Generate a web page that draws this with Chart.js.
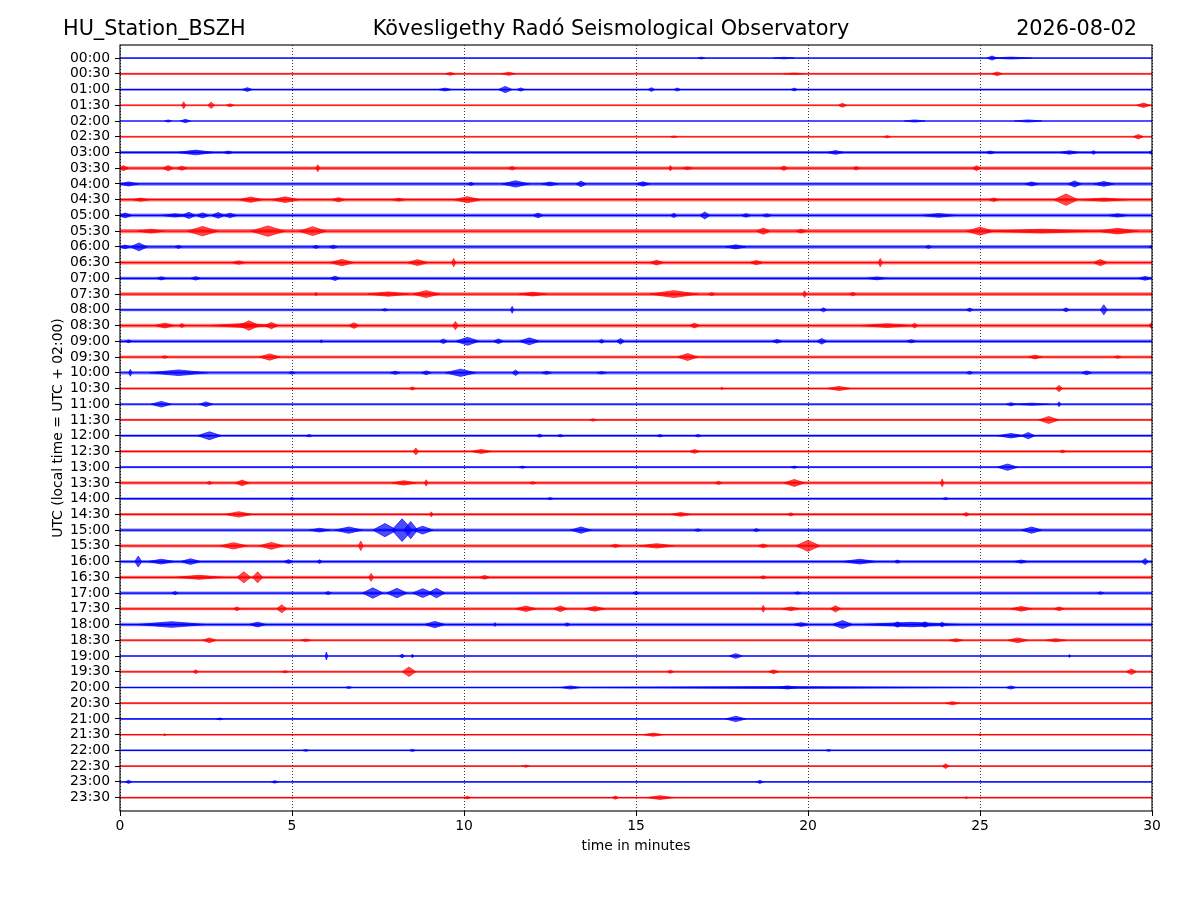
<!DOCTYPE html>
<html>
<head>
<meta charset="utf-8">
<script src="https://cdn.jsdelivr.net/npm/chart.js@4.4.1/dist/chart.umd.min.js"></script>
<style>
  html, body { margin: 0; padding: 0; background: #fff; }
  canvas { display: block; }
</style>
</head>
<body>
<canvas id="c" width="1200" height="900"></canvas>
<script>
// ---------------- DATA ----------------
const titleLeft = "HU_Station_BSZH";
const titleCenter = "Kövesligethy Radó Seismological Observatory";
const titleRight = "2026-08-02";
const xAxisTitle = "time in minutes";
const yAxisTitle = "UTC (local time = UTC + 02:00)";

const xTicks = [0, 5, 10, 15, 20, 25, 30];

const traceLabels = [
  "00:00","00:30","01:00","01:30","02:00","02:30","03:00","03:30",
  "04:00","04:30","05:00","05:30","06:00","06:30","07:00","07:30",
  "08:00","08:30","09:00","09:30","10:00","10:30","11:00","11:30",
  "12:00","12:30","13:00","13:30","14:00","14:30","15:00","15:30",
  "16:00","16:30","17:00","17:30","18:00","18:30","19:00","19:30",
  "20:00","20:30","21:00","21:30","22:00","22:30","23:00","23:30"
];

// background noise half-amplitude of each trace (in trace-spacing units)
const noiseLevel = [
  0.05, 0.06, 0.06, 0.065, 0.05, 0.06, 0.09, 0.11,
  0.11, 0.11, 0.12, 0.13, 0.12, 0.12, 0.11, 0.12,
  0.09, 0.12, 0.11, 0.10, 0.11, 0.08, 0.08, 0.07,
  0.08, 0.08, 0.07, 0.10, 0.08, 0.09, 0.11, 0.11,
  0.10, 0.10, 0.10, 0.10, 0.11, 0.08, 0.07, 0.08,
  0.07, 0.06, 0.06, 0.05, 0.055, 0.055, 0.055, 0.055
];

// bursts: [trace index, centre minute, half-duration (min), peak half-amplitude]
const bursts = [
  [0,25.35,0.15,0.13],[0,25.9,0.6,0.06],[0,16.9,0.1,0.06],[0,19.3,0.3,0.05],
  [1,9.6,0.15,0.09],[1,11.3,0.2,0.1],[1,25.5,0.15,0.12],[1,19.6,0.3,0.05],
  [2,3.7,0.15,0.12],[2,9.45,0.2,0.09],[2,11.2,0.2,0.2],[2,11.65,0.12,0.1],[2,15.45,0.1,0.12],[2,16.2,0.1,0.1],[2,19.6,0.1,0.09],
  [3,1.85,0.06,0.22],[3,2.65,0.1,0.2],[3,3.2,0.12,0.09],[3,21.0,0.12,0.13],[3,29.75,0.2,0.14],
  [4,1.9,0.15,0.11],[4,1.4,0.1,0.07],[4,23.1,0.3,0.07],[4,26.4,0.4,0.07],
  [5,29.6,0.15,0.14],[5,22.3,0.1,0.07],[5,16.1,0.1,0.05],
  [6,2.2,0.55,0.15],[6,3.15,0.15,0.09],[6,20.8,0.25,0.12],[6,25.3,0.15,0.09],[6,27.6,0.3,0.11],[6,28.3,0.08,0.12],[6,30.0,0.1,0.14],
  [7,0.1,0.15,0.16],[7,1.4,0.15,0.17],[7,1.8,0.15,0.13],[7,5.75,0.06,0.22],[7,11.4,0.12,0.11],[7,16.0,0.05,0.17],[7,16.5,0.15,0.09],[7,19.3,0.12,0.14],[7,21.4,0.1,0.11],[7,24.9,0.12,0.16],
  [8,0.25,0.3,0.13],[8,10.2,0.1,0.1],[8,11.5,0.4,0.2],[8,12.5,0.25,0.12],[8,13.4,0.15,0.18],[8,15.2,0.2,0.14],[8,26.5,0.2,0.13],[8,27.75,0.2,0.19],[8,28.6,0.3,0.15],
  [9,0.6,0.25,0.1],[9,3.8,0.35,0.17],[9,4.8,0.4,0.18],[9,6.35,0.2,0.13],[9,8.1,0.2,0.09],[9,10.1,0.4,0.19],[9,27.5,0.35,0.36],[9,25.4,0.15,0.11],[9,28.6,0.7,0.1],
  [10,0.15,0.2,0.15],[10,2.0,0.2,0.2],[10,2.4,0.2,0.16],[10,2.85,0.2,0.18],[10,3.2,0.2,0.14],[10,1.6,0.4,0.1],[10,12.15,0.15,0.15],[10,16.1,0.1,0.14],[10,17.0,0.15,0.22],[10,18.2,0.15,0.11],[10,18.8,0.15,0.1],[10,23.8,0.5,0.12],[10,29.0,0.3,0.1],
  [11,0.9,0.4,0.12],[11,2.4,0.45,0.3],[11,4.3,0.5,0.33],[11,5.6,0.4,0.28],[11,18.7,0.2,0.2],[11,19.8,0.15,0.12],[11,25.0,0.4,0.25],[11,26.8,1.6,0.12],[11,29.0,0.6,0.18],
  [12,0.15,0.15,0.12],[12,0.55,0.25,0.25],[12,1.7,0.1,0.1],[12,5.7,0.1,0.1],[12,6.2,0.12,0.11],[12,17.9,0.3,0.13],[12,23.5,0.1,0.1],[12,30.0,0.1,0.09],
  [13,3.45,0.2,0.11],[13,6.45,0.35,0.2],[13,8.65,0.3,0.19],[13,9.7,0.06,0.26],[13,15.6,0.2,0.15],[13,18.5,0.2,0.13],[13,22.1,0.06,0.26],[13,28.5,0.2,0.2],
  [14,1.2,0.15,0.1],[14,2.2,0.15,0.11],[14,6.25,0.15,0.14],[14,22.0,0.3,0.09],[14,29.8,0.2,0.12],
  [15,7.8,0.6,0.14],[15,8.9,0.4,0.22],[15,12.0,0.4,0.12],[15,5.7,0.05,0.1],[15,16.1,0.7,0.22],[15,19.9,0.06,0.21],[15,17.2,0.1,0.1],[15,21.3,0.1,0.11],
  [16,7.7,0.1,0.08],[16,11.4,0.05,0.22],[16,20.45,0.1,0.13],[16,24.7,0.1,0.11],[16,27.5,0.1,0.13],[16,28.6,0.1,0.32],
  [17,1.3,0.3,0.15],[17,1.8,0.1,0.13],[17,3.6,1.0,0.13],[17,3.75,0.3,0.3],[17,4.4,0.2,0.2],[17,6.8,0.15,0.18],[17,9.75,0.08,0.26],[17,16.7,0.15,0.15],[17,22.3,0.8,0.12],[17,23.1,0.1,0.15],[17,30.0,0.1,0.2],
  [18,0.25,0.1,0.09],[18,5.85,0.05,0.09],[18,9.4,0.12,0.15],[18,10.1,0.35,0.25],[18,11.0,0.15,0.15],[18,11.9,0.3,0.22],[18,14.0,0.1,0.12],[18,14.55,0.12,0.18],[18,19.1,0.15,0.12],[18,20.4,0.15,0.18],[18,23.0,0.15,0.1],
  [19,4.35,0.3,0.2],[19,1.3,0.1,0.08],[19,16.5,0.3,0.22],[19,26.6,0.2,0.12],[19,29.0,0.1,0.08],
  [20,0.3,0.05,0.22],[20,1.7,0.85,0.18],[20,5.0,0.1,0.08],[20,8.0,0.15,0.1],[20,8.9,0.15,0.12],[20,9.9,0.45,0.23],[20,11.5,0.1,0.18],[20,12.4,0.15,0.1],[20,14.0,0.15,0.08],[20,24.7,0.1,0.1],[20,28.1,0.15,0.12],
  [21,8.5,0.1,0.1],[21,17.5,0.05,0.07],[21,20.9,0.35,0.13],[21,27.3,0.1,0.2],
  [22,1.2,0.3,0.18],[22,2.5,0.2,0.15],[22,25.9,0.15,0.1],[22,27.3,0.05,0.16],[22,26.5,0.5,0.07],
  [23,13.75,0.1,0.08],[23,27.0,0.3,0.22],
  [24,2.6,0.35,0.25],[24,5.5,0.1,0.07],[24,12.2,0.1,0.1],[24,12.8,0.1,0.08],[24,25.9,0.4,0.14],[24,26.4,0.2,0.2],[24,15.7,0.1,0.08],[24,16.8,0.1,0.08],
  [25,8.6,0.08,0.22],[25,10.5,0.3,0.13],[25,16.7,0.15,0.12],[25,27.4,0.1,0.09],
  [26,11.7,0.1,0.07],[26,19.6,0.1,0.07],[26,25.8,0.3,0.2],
  [27,2.6,0.08,0.1],[27,3.55,0.2,0.18],[27,8.25,0.35,0.14],[27,8.9,0.05,0.2],[27,12.0,0.1,0.08],[27,17.4,0.1,0.1],[27,19.6,0.3,0.22],[27,23.9,0.05,0.25],
  [28,5.0,0.08,0.08],[28,12.5,0.1,0.07],[28,24.0,0.1,0.07],
  [29,3.45,0.4,0.17],[29,9.05,0.05,0.16],[29,16.3,0.3,0.12],[29,19.5,0.1,0.1],[29,24.6,0.1,0.12],
  [30,6.65,0.4,0.2],[30,5.8,0.3,0.12],[30,7.7,0.35,0.42],[30,8.2,0.3,0.72],[30,8.45,0.2,0.55],[30,8.8,0.3,0.25],[30,13.4,0.3,0.2],[30,16.8,0.1,0.08],[30,18.5,0.1,0.1],[30,26.5,0.3,0.2],
  [31,3.3,0.4,0.2],[31,4.4,0.35,0.22],[31,7.0,0.07,0.3],[31,14.4,0.15,0.1],[31,15.6,0.5,0.14],[31,18.7,0.15,0.12],[31,20.0,0.35,0.35],
  [32,0.53,0.1,0.35],[32,1.2,0.4,0.15],[32,2.05,0.3,0.18],[32,4.9,0.15,0.12],[32,5.8,0.08,0.12],[32,21.5,0.5,0.15],[32,22.6,0.1,0.1],[32,26.2,0.2,0.1],[32,29.8,0.1,0.2],
  [33,2.3,0.7,0.13],[33,3.6,0.2,0.35],[33,4.0,0.15,0.35],[33,7.3,0.07,0.25],[33,10.6,0.15,0.12],[33,18.7,0.1,0.1],
  [34,7.35,0.3,0.33],[34,8.05,0.3,0.3],[34,8.8,0.3,0.28],[34,9.2,0.25,0.3],[34,1.6,0.1,0.1],[34,6.05,0.1,0.1],[34,15.0,0.1,0.1],[34,19.7,0.1,0.08],[34,28.5,0.1,0.08],
  [35,3.4,0.1,0.12],[35,4.7,0.15,0.25],[35,11.8,0.3,0.17],[35,12.8,0.2,0.18],[35,13.8,0.3,0.15],[35,18.7,0.05,0.22],[35,19.5,0.25,0.12],[35,20.8,0.15,0.2],[35,26.2,0.3,0.15],[35,27.3,0.15,0.12],
  [36,1.5,1.0,0.18],[36,4.0,0.25,0.15],[36,9.15,0.3,0.2],[36,10.9,0.05,0.12],[36,13.0,0.1,0.1],[36,19.8,0.25,0.12],[36,21.0,0.3,0.25],[36,23.0,1.5,0.14],[36,22.6,0.15,0.17],[36,23.4,0.15,0.17],[36,23.9,0.1,0.15],
  [37,2.6,0.2,0.15],[37,5.4,0.15,0.08],[37,24.3,0.2,0.1],[37,26.1,0.3,0.15],[37,27.2,0.3,0.1],
  [38,6.0,0.04,0.25],[38,8.2,0.08,0.12],[38,8.5,0.04,0.12],[38,17.9,0.2,0.15],[38,27.6,0.04,0.1],
  [39,2.2,0.08,0.12],[39,8.4,0.2,0.3],[39,4.8,0.1,0.07],[39,16.0,0.1,0.1],[39,19.0,0.15,0.12],[39,29.4,0.15,0.18],
  [40,6.65,0.1,0.07],[40,13.1,0.3,0.1],[40,19.0,6.5,0.06],[40,19.4,0.3,0.1],[40,25.9,0.15,0.1],
  [41,24.2,0.2,0.1],
  [42,2.9,0.1,0.06],[42,17.9,0.3,0.17],
  [43,1.3,0.05,0.06],[43,15.5,0.3,0.1],[43,25.0,0.05,0.06],
  [44,5.4,0.1,0.06],[44,8.5,0.1,0.07],[44,20.6,0.1,0.06],
  [45,11.8,0.1,0.07],[45,24.0,0.1,0.15],
  [46,0.25,0.1,0.1],[46,4.5,0.1,0.08],[46,18.6,0.1,0.1],
  [47,10.1,0.1,0.08],[47,14.4,0.1,0.1],[47,15.7,0.4,0.12],[47,24.6,0.05,0.06]
];

// ---------------- CHART ----------------
const FONT = '"DejaVu Sans", "Liberation Sans", sans-serif';
const traceColor = (i) => (i % 2 === 0 ? [0, 0, 255] : [255, 0, 0]);
const rgba = (c, a) => `rgba(${c[0]},${c[1]},${c[2]},${a})`;

const datasets = [];
traceLabels.forEach((lab, i) => {
  const c = traceColor(i);
  const n = noiseLevel[i];
  // noise band
  datasets.push({
    data: [{x: 0, y: i - n}, {x: 30, y: i - n}, {x: 30, y: i + n}, {x: 0, y: i + n}],
    fill: 'shape', backgroundColor: rgba(c, 0.5), borderWidth: 0,
    pointRadius: 0, tension: 0
  });
  // centre line
  datasets.push({
    data: [{x: 0, y: i}, {x: 30, y: i}],
    fill: false, borderColor: rgba(c, 1), borderWidth: 1.2,
    pointRadius: 0, tension: 0
  });
});
bursts.forEach(([i, t, w, a]) => {
  const c = traceColor(i);
  datasets.push({
    data: [{x: t - w, y: i}, {x: t, y: i - a}, {x: t + w, y: i}, {x: t, y: i + a}, {x: t - w, y: i}],
    fill: 'shape', backgroundColor: rgba(c, 0.7), borderColor: rgba(c, 0.85), borderWidth: 0.8,
    pointRadius: 0, tension: 0
  });
});

const textPlugin = {
  id: 'texts',
  afterDraw(chart) {
    const ctx = chart.ctx;
    const a = chart.chartArea;
    ctx.save();
    // frame
    ctx.strokeStyle = '#000';
    ctx.lineWidth = 1.1;
    ctx.setLineDash([]);
    ctx.strokeRect(a.left, a.top, a.right - a.left, a.bottom - a.top);
    // titles
    ctx.fillStyle = '#000';
    ctx.font = '20.8px ' + FONT;
    ctx.textBaseline = 'alphabetic';
    ctx.textAlign = 'left';
    ctx.fillText(titleLeft, 63, 35);
    ctx.textAlign = 'center';
    ctx.fillText(titleCenter, 611, 35);
    ctx.textAlign = 'right';
    ctx.fillText(titleRight, 1137, 35);
    // axis titles
    ctx.font = '13.9px ' + FONT;
    ctx.textAlign = 'center';
    ctx.fillText(xAxisTitle, (a.left + a.right) / 2, 850);
    ctx.translate(62, (a.top + a.bottom) / 2);
    ctx.rotate(-Math.PI / 2);
    ctx.fillText(yAxisTitle, 0, 0);
    ctx.restore();
  }
};

new Chart(document.getElementById('c'), {
  type: 'line',
  data: { datasets },
  plugins: [textPlugin],
  options: {
    responsive: false,
    animation: false,
    events: [],
    layout: { padding: { left: 0, right: 48, top: 45, bottom: 0 } },
    plugins: { legend: { display: false }, tooltip: { enabled: false }, title: { display: false } },
    scales: {
      x: {
        type: 'linear', min: 0, max: 30,
        afterFit: (s) => { s.height = 89; },
        afterBuildTicks: (s) => { s.ticks = xTicks.map(v => ({value: v})); },
        ticks: { color: '#000', font: { family: FONT, size: 13.9 }, padding: 2, maxRotation: 0, autoSkip: false },
        grid: { display: true, drawOnChartArea: true, drawTicks: true, tickLength: 5, color: '#000', lineWidth: 0.8, tickColor: '#000', tickWidth: 1, tickBorderDash: [] },
        border: { display: false, dash: [1, 2] }
      },
      y: {
        type: 'linear', min: -0.83, max: 47.85, reverse: true,
        afterFit: (s) => { s.width = 120; },
        afterBuildTicks: (s) => { s.ticks = traceLabels.map((l, i) => ({value: i})); },
        ticks: { color: '#000', font: { family: FONT, size: 13.9 }, padding: 5, autoSkip: false,
                 callback: (v, idx) => traceLabels[idx] },
        grid: { display: true, drawOnChartArea: false, drawTicks: true, tickLength: 5, color: '#000', lineWidth: 1, tickColor: '#000' },
        border: { display: false }
      }
    }
  }
});
</script>
</body>
</html>
